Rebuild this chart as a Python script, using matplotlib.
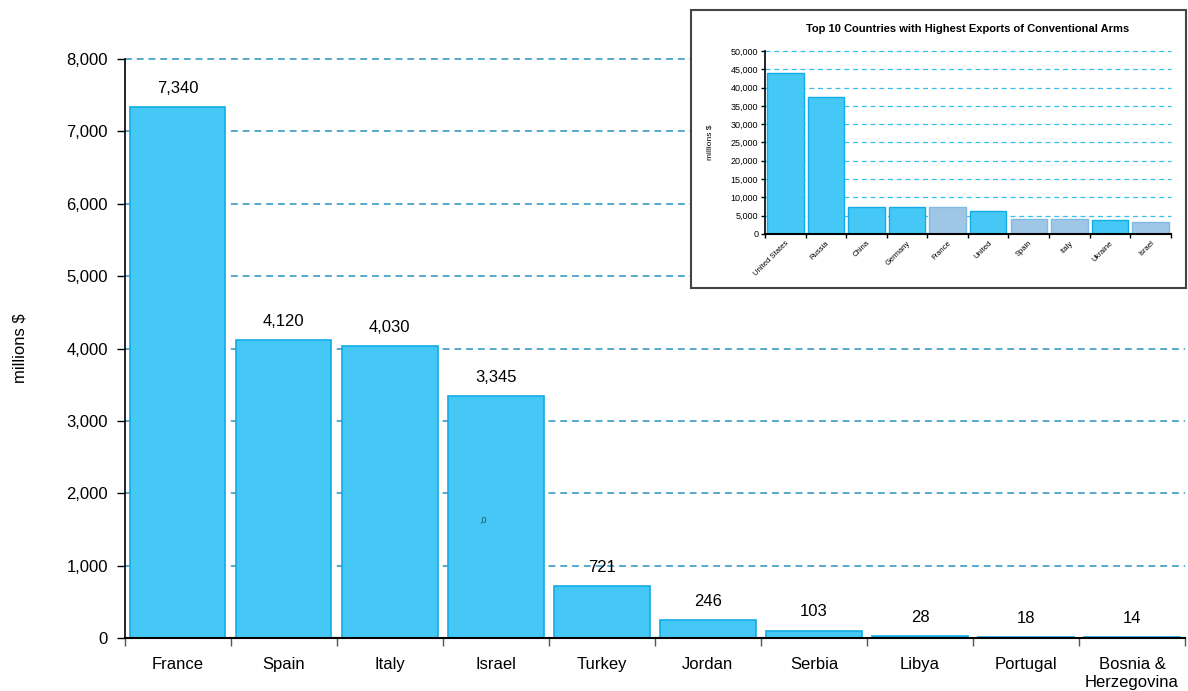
import matplotlib
matplotlib.use("Agg")
import matplotlib.pyplot as plt
from matplotlib.patches import Rectangle
import numpy as np

plt.rcParams['font.family'] = ['Liberation Sans', 'DejaVu Sans']

# ---- main chart data ----
countries = ["France", "Spain", "Italy", "Israel", "Turkey", "Jordan",
             "Serbia", "Libya", "Portugal", "Bosnia &\nHerzegovina"]
values = [7340, 4120, 4030, 3345, 721, 246, 103, 28, 18, 14]
y_ticks = [0, 1000, 2000, 3000, 4000, 5000, 6000, 7000, 8000]

# ---- inset data ----
inset_title = "Top 10 Countries with Highest Exports of Conventional Arms"
inset_countries = ["United States", "Russia", "China", "Germany", "France",
                   "United", "Spain", "Italy", "Ukraine", "Israel"]
inset_values = [43900, 37300, 7500, 7300, 7340, 6400, 4120, 4030, 3700, 3345]
inset_highlight = [False, False, False, False, True, False, True, True, False, True]
inset_ticks = [0, 5000, 10000, 15000, 20000, 25000, 30000, 35000, 40000, 45000, 50000]

BAR = "#45c8f5"
EDGE = "#12ade6"
HL = "#a0c6e6"
HL_EDGE = "#7fbbe6"

fig = plt.figure(figsize=(11.88, 6.91), dpi=100)

ax = fig.add_axes([0.105, 0.0767, 0.8925, 0.8379])
x = np.arange(len(countries))
ax.bar(x, values, width=0.9, color=BAR, edgecolor=EDGE, linewidth=1.2, zorder=2)
ax.set_xlim(-0.5, len(countries) - 0.5)
ax.set_ylim(0, 8000)
ax.set_yticks(y_ticks)
ax.set_yticklabels([f"{v:,}" for v in y_ticks], fontsize=12)
for v in y_ticks[1:]:
    ax.axhline(v, color="#2a92c0", lw=1.1, dashes=(4.5, 3.2), zorder=1, clip_on=False)
ax.set_xticks(x)
ax.set_xticklabels(countries, fontsize=12)
ax.set_xticks(np.arange(len(countries) + 1) - 0.5, minor=True)
ax.tick_params(axis='x', which='major', length=0, pad=14)
ax.tick_params(axis='x', which='minor', length=6, width=1, color="#555555")
ax.tick_params(axis='y', length=6, width=1, direction='out', pad=6)
for s in ["top", "right"]:
    ax.spines[s].set_visible(False)
ax.spines["left"].set_linewidth(1.2)
ax.spines["bottom"].set_linewidth(1.5)
ax.set_ylabel("millions $", fontsize=12, labelpad=28)
for xi, v in zip(x, values):
    ax.annotate(f"{v:,}", (xi, v), xytext=(0, 8), textcoords="offset points",
                ha="center", va="bottom", fontsize=12, zorder=3)
ax.text(2.88, 1630, ",0", fontsize=6.5, color="#1f4f6f", ha="center", va="center", zorder=3)

# ---- inset ----
fig.patches.append(Rectangle((0.5816, 0.5832), 0.4167, 0.4023, transform=fig.transFigure,
                             facecolor="white", edgecolor="#444444", linewidth=1.5, zorder=5))
iax = fig.add_axes([0.644, 0.6614, 0.3415, 0.2648], zorder=6)
iax.patch.set_alpha(0)
xi = np.arange(len(inset_countries))
cols = [HL if h else BAR for h in inset_highlight]
ecols = [HL_EDGE if h else EDGE for h in inset_highlight]
iax.bar(xi, inset_values, width=0.9, color=cols, edgecolor=ecols, linewidth=1.0, zorder=2)
iax.set_xlim(-0.5, len(inset_countries) - 0.5)
iax.set_ylim(0, 50000)
iax.set_yticks(inset_ticks)
iax.set_yticklabels([f"{v:,}" for v in inset_ticks], fontsize=6.5)
for v in inset_ticks[1:]:
    iax.axhline(v, color="#36c0ee", lw=0.9, dashes=(4, 3), zorder=1, clip_on=False)
iax.set_xticks(xi)
iax.set_xticklabels(inset_countries, fontsize=5.5, rotation=45, ha="right",
                    rotation_mode="anchor")
iax.set_xticks(np.arange(len(inset_countries) + 1) - 0.5, minor=True)
iax.tick_params(axis='x', which='major', length=0, pad=4)
iax.tick_params(axis='x', which='minor', length=3, width=1)
iax.tick_params(axis='y', length=3, width=1, pad=2)
for s in ["top", "right"]:
    iax.spines[s].set_visible(False)
iax.spines["left"].set_linewidth(1.2)
iax.spines["bottom"].set_linewidth(1.5)
iax.set_ylabel("millions $", fontsize=6, labelpad=12)
iax.set_title(inset_title, fontsize=8, fontweight="bold", pad=14)

fig.savefig("out.png", dpi=100)
